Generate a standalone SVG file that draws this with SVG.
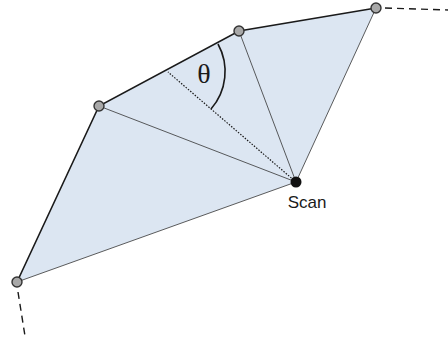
<svg xmlns="http://www.w3.org/2000/svg" width="448" height="343" viewBox="0 0 448 343">
<style>
.edge{stroke:#1a1a1a;stroke-width:1.6;fill:none}
.ray{stroke:#333;stroke-width:0.8;fill:none}
.dash{stroke:#1a1a1a;stroke-width:1.4;stroke-dasharray:7,5;fill:none}
.pt{fill:#a8a8a8;stroke:#333;stroke-width:1.4}
.lbl{font-family:"Liberation Sans",Arial,sans-serif;font-size:17px;fill:#1a1a1a}
</style>
<rect width="448" height="343" fill="#fff"/>
<polygon points="17,282 99,106 239,31 376,8 296,182" fill="#dce6f2"/>
<g id="connectors">
<path class="dash" d="M385,8 L448,10"/>
<path class="dash" d="M18,292 L25,336"/>
<path class="ray" d="M296,182 L17,282 M296,182 L99,106 M296,182 L239,31 M296,182 L376,8"/>
<path d="M296,182 L168,72" stroke="#1a1a1a" stroke-width="1.2" stroke-dasharray="1.5,1.5" fill="none"/>
<path class="edge" d="M17,282 L99,106 L239,31 L376,8"/>
<path d="M218,44 A57,57 0 0 1 211,109" stroke="#1a1a1a" stroke-width="1.6" fill="none"/>
<text x="204" y="83" font-family="Liberation Serif,'Times New Roman',serif" font-size="28" fill="#1a1a1a" text-anchor="middle">θ</text>
</g>
<g id="p1"><circle class="pt" cx="17" cy="282" r="5"/></g>
<g id="p2"><circle class="pt" cx="99" cy="106" r="5"/></g>
<g id="p3"><circle class="pt" cx="239" cy="31" r="5"/></g>
<g id="p4"><circle class="pt" cx="376" cy="8" r="5"/></g>
<g id="scan"><circle cx="296" cy="182" r="5.5" fill="#111"/><text class="lbl" x="307" y="208" text-anchor="middle">Scan</text></g>
</svg>
